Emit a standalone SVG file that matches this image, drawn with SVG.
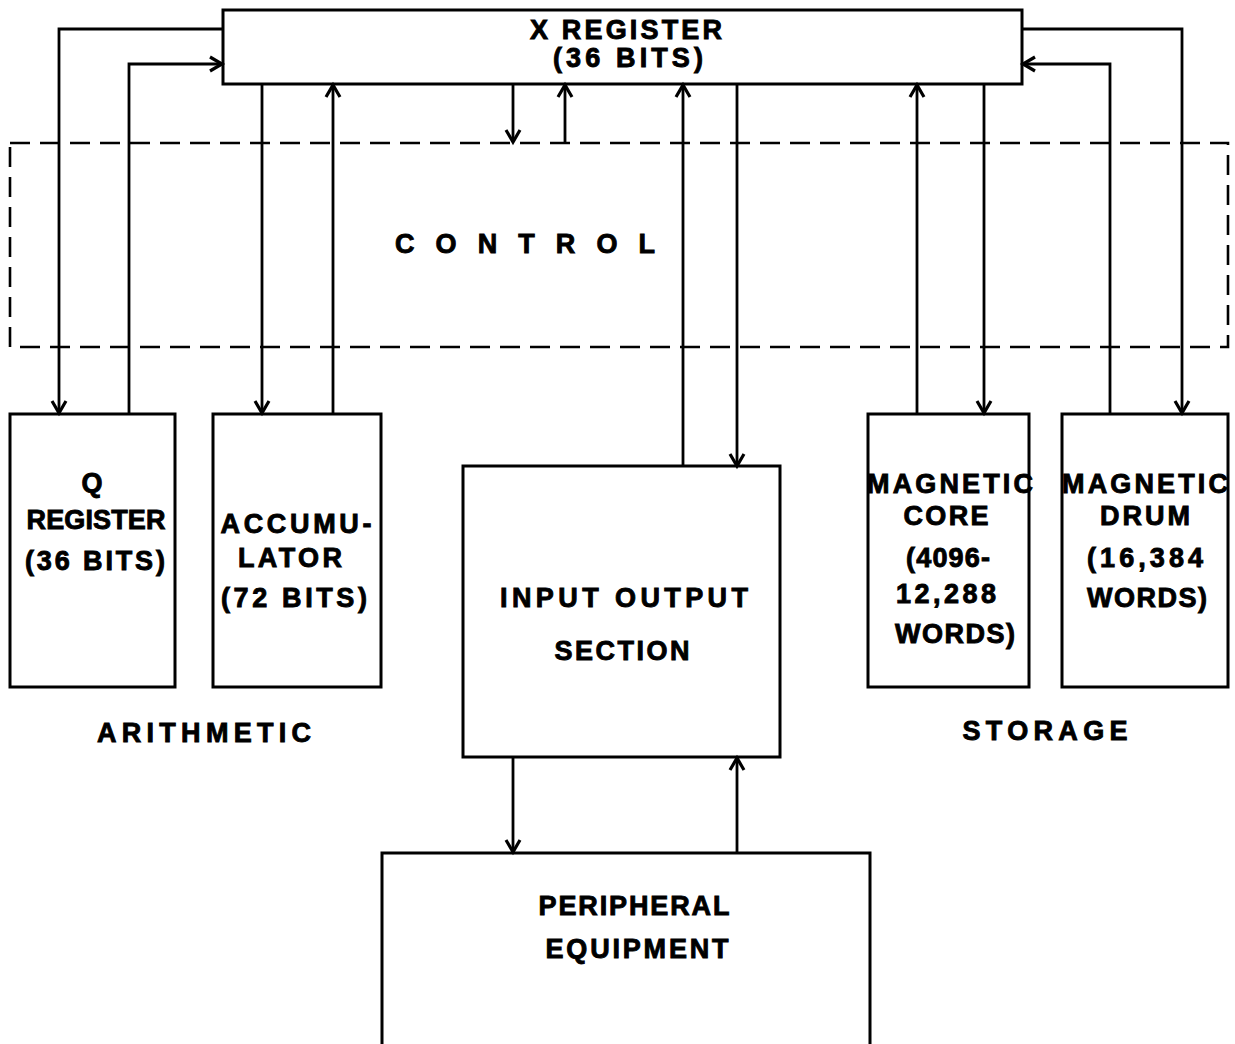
<svg xmlns="http://www.w3.org/2000/svg" width="1235" height="1044" viewBox="0 0 1235 1044">
<style>
.box{fill:none;stroke:#000;stroke-width:3}
.ln{fill:none;stroke:#000;stroke-width:2.8}
.arr{marker-end:url(#ah)}
.dash{fill:none;stroke:#000;stroke-width:2.6;stroke-dasharray:20 10}
text{font-family:"Liberation Sans",Arial,sans-serif;font-weight:bold;font-size:27px;fill:#000;stroke:#000;stroke-width:0.9;text-anchor:middle}
</style>
<defs>
<marker id="ah" markerUnits="userSpaceOnUse" markerWidth="18" markerHeight="18" refX="14" refY="9" orient="auto" viewBox="0 0 18 18">
<path d="M2,2 L14,9 L2,16" fill="none" stroke="#000" stroke-width="3.2"/>
</marker>
</defs>
<rect width="1235" height="1044" fill="#fff"/>
<g id="control">
<rect class="dash" x="10" y="143" width="1218" height="204"/>
<text x="525" y="253" textLength="260" lengthAdjust="spacing">CONTROL</text>
</g>
<g id="connectors">
<polyline class="ln arr" points="223,29 59,29 59,413"/>
<polyline class="ln arr" points="129,413 129,64 222,64"/>
<polyline class="ln arr" points="262,84 262,413"/>
<polyline class="ln arr" points="333,413 333,85"/>
<polyline class="ln arr" points="513,84 513,142"/>
<polyline class="ln arr" points="565,143 565,85"/>
<polyline class="ln arr" points="683,466 683,85"/>
<polyline class="ln arr" points="737,84 737,466"/>
<polyline class="ln arr" points="917,413 917,85"/>
<polyline class="ln arr" points="984,84 984,413"/>
<polyline class="ln arr" points="1110,413 1110,64 1023,64"/>
<polyline class="ln arr" points="1022,29 1182,29 1182,413"/>
<polyline class="ln arr" points="513,757 513,852"/>
<polyline class="ln arr" points="737,853 737,758"/>
</g>
<g id="x-register">
<rect class="box" x="223" y="10" width="799" height="74"/>
<text x="626" y="39" textLength="192" lengthAdjust="spacing">X REGISTER</text>
<text x="628" y="67" textLength="150" lengthAdjust="spacing">(36 BITS)</text>
</g>
<g id="q-register">
<rect class="box" x="10" y="414" width="165" height="273"/>
<text x="92" y="492">Q</text>
<text x="96" y="529" textLength="139" lengthAdjust="spacing">REGISTER</text>
<text x="95" y="570" textLength="140" lengthAdjust="spacing">(36 BITS)</text>
</g>
<g id="accumulator">
<rect class="box" x="213" y="414" width="168" height="273"/>
<text x="296" y="533" textLength="151" lengthAdjust="spacing">ACCUMU-</text>
<text x="290" y="567" textLength="104" lengthAdjust="spacing">LATOR</text>
<text x="294" y="607" textLength="146" lengthAdjust="spacing">(72 BITS)</text>
</g>
<g id="input-output">
<rect class="box" x="463" y="466" width="317" height="291"/>
<text x="624" y="607" textLength="248" lengthAdjust="spacing">INPUT OUTPUT</text>
<text x="622" y="660" textLength="135" lengthAdjust="spacing">SECTION</text>
</g>
<g id="magnetic-core">
<rect class="box" x="868" y="414" width="161" height="273"/>
<text x="950" y="493" textLength="166" lengthAdjust="spacing">MAGNETIC</text>
<text x="946" y="525" textLength="85" lengthAdjust="spacing">CORE</text>
<text x="948" y="567" textLength="84" lengthAdjust="spacing">(4096-</text>
<text x="946" y="603" textLength="100" lengthAdjust="spacing">12,288</text>
<text x="955" y="643" textLength="120" lengthAdjust="spacing">WORDS)</text>
</g>
<g id="magnetic-drum">
<rect class="box" x="1062" y="414" width="166" height="273"/>
<text x="1145" y="493" textLength="166" lengthAdjust="spacing">MAGNETIC</text>
<text x="1145" y="525" textLength="90" lengthAdjust="spacing">DRUM</text>
<text x="1145" y="567" textLength="116" lengthAdjust="spacing">(16,384</text>
<text x="1147" y="607" textLength="120" lengthAdjust="spacing">WORDS)</text>
</g>
<g id="arithmetic-label">
<text x="204" y="742" textLength="214" lengthAdjust="spacing">ARITHMETIC</text>
</g>
<g id="storage-label">
<text x="1045" y="740" textLength="165" lengthAdjust="spacing">STORAGE</text>
</g>
<g id="peripheral">
<path class="box" d="M382,1050 L382,853 L870,853 L870,1050"/>
<text x="634" y="915" textLength="191" lengthAdjust="spacing">PERIPHERAL</text>
<text x="637" y="958" textLength="183" lengthAdjust="spacing">EQUIPMENT</text>
</g>
</svg>
